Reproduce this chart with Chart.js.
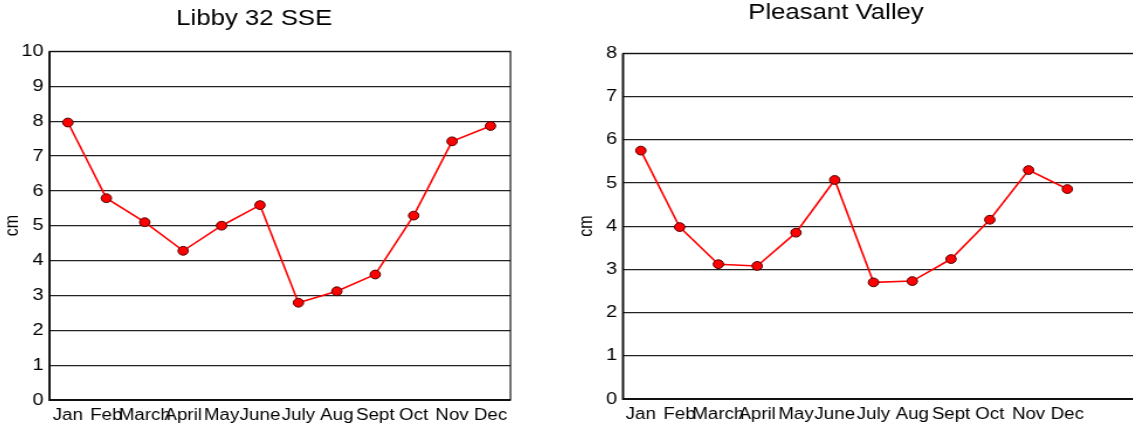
<!DOCTYPE html>
<html>
<head>
<meta charset="utf-8">
<script src="https://cdn.jsdelivr.net/npm/chart.js@4.4.0/dist/chart.umd.min.js"></script>
<style>
	html, body { margin: 0; padding: 0; background: #fff; overflow: hidden; width: 1133px; height: 423px; }
	.wrap { position: absolute; top: 0; transform-origin: 0 0; transform: scaleX(1.17); }
	#leftWrap { left: -2px; }
	#rightWrap { left: 530px; }
	canvas { display: block; }
</style>
</head>
<body>
<div class="wrap" id="leftWrap"><canvas id="libbyChart" width="444" height="423"></canvas></div>
<div class="wrap" id="rightWrap"><canvas id="pleasantChart" width="523" height="423"></canvas></div>
<script>
// chart data
const months = ["Jan", "Feb", "March", "April", "May", "June", "July", "Aug", "Sept", "Oct", "Nov", "Dec"];
const libbyValues = [7.96, 5.79, 5.1, 4.28, 5.0, 5.59, 2.79, 3.12, 3.6, 5.29, 7.42, 7.86];
const pleasantValues = [5.75, 3.98, 3.12, 3.08, 3.85, 5.07, 2.7, 2.73, 3.24, 4.15, 5.3, 4.86];
const libbyYTicks = [0, 1, 2, 3, 4, 5, 6, 7, 8, 9, 10];
const pleasantYTicks = [0, 1, 2, 3, 4, 5, 6, 7, 8];

Chart.defaults.font.family = "'Liberation Sans', Arial, sans-serif";
Chart.defaults.color = "#000";

// box round the plot, thicker on the left and bottom
const framePlugin = {
	id: "frame",
	afterDraw(chart) {
		const a = chart.chartArea;
		const ctx = chart.ctx;
		ctx.save();
		ctx.strokeStyle = "#111";
		ctx.lineWidth = 1.2;
		ctx.strokeRect(a.left, a.top, a.right - a.left, a.bottom - a.top);
		ctx.lineWidth = 1.8;
		ctx.beginPath();
		ctx.moveTo(a.left, a.top);
		ctx.lineTo(a.left, a.bottom);
		ctx.lineTo(a.right, a.bottom);
		ctx.stroke();
		ctx.restore();
	},
};

function drawLineChart(id, title, values, yTicks, cfg) {
	var points = values.map(function (v, i) {
		return { x: i, y: v };
	});
	return new Chart(document.getElementById(id), {
		type: "line",
		data: {
			datasets: [
				{
					data: points,
					borderColor: "#ff0000",
					borderWidth: 1.6,
					pointBackgroundColor: "#ff0000",
					pointBorderColor: "#500000",
					pointBorderWidth: 1,
					pointRadius: 4.4,
					tension: 0,
				},
			],
		},
		options: {
			responsive: false,
			animation: false,
			layout: { padding: { left: 0, right: cfg.padRight, top: 0, bottom: 0 } },
			plugins: {
				legend: { display: false },
				tooltip: { enabled: false },
				title: {
					display: true,
					text: title,
					font: { size: 22, weight: "normal" },
					color: "#000",
					padding: { top: cfg.titleTop, bottom: cfg.titleBottom },
				},
			},
			scales: {
				x: {
					type: "linear",
					min: cfg.xMin,
					max: cfg.xMax,
					grid: { display: false },
					border: { display: false },
					afterBuildTicks: function (axis) {
						axis.ticks = months.map(function (m, i) {
							return { value: i };
						});
					},
					afterFit: function (axis) {
						axis.height = cfg.xHeight;
					},
					ticks: {
						autoSkip: false,
						maxRotation: 0,
						padding: -2,
						font: { size: 16 },
						callback: function (value) {
							return months[value];
						},
					},
				},
				y: {
					min: yTicks[0],
					max: yTicks[yTicks.length - 1],
					afterBuildTicks: function (axis) {
						axis.ticks = yTicks.map(function (t) {
							return { value: t };
						});
					},
					afterFit: function (axis) {
						axis.width = cfg.yWidth;
					},
					grid: { color: "#222", lineWidth: 1.2, drawTicks: false },
					border: { display: false },
					ticks: { padding: 5, font: { size: 17 } },
					title: {
						display: true,
						text: "cm",
						font: { size: 16 },
						padding: { top: cfg.cmPad, bottom: 0 },
					},
				},
			},
		},
		plugins: [framePlugin],
	});
}

drawLineChart("libbyChart", "Libby 32 SSE", libbyValues, libbyYTicks, {
	xMin: -0.48,
	xMax: 11.52,
	yWidth: 44,
	cmPad: 3,
	padRight: 6,
	xHeight: 23,
	titleTop: 6,
	titleBottom: 19,
});

drawLineChart("pleasantChart", "Pleasant Valley", pleasantValues, pleasantYTicks, {
	xMin: -0.46,
	xMax: 12.76,
	yWidth: 79.5,
	cmPad: 39,
	padRight: 0,
	xHeight: 24,
	titleTop: 0,
	titleBottom: 27,
});
</script>
</body>
</html>
